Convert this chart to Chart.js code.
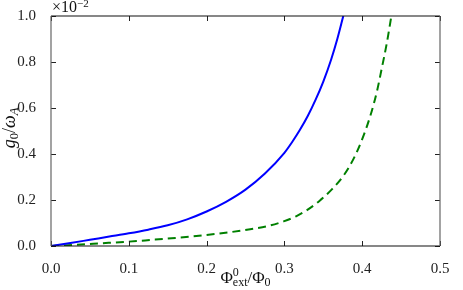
<!DOCTYPE html>
<html>
<head>
<meta charset="utf-8">
<script src="https://cdn.jsdelivr.net/npm/chart.js@4.4.1/dist/chart.umd.min.js"></script>
<style>
  html, body { margin: 0; padding: 0; background: #fff; }
  #wrap { width: 463px; height: 290px; }
</style>
</head>
<body>
<div id="wrap"><canvas id="myChart" width="463" height="290"></canvas></div>
<script>
// Werte (y in Einheiten von 1e-2)
const blueX = [0, 0.025, 0.05, 0.075, 0.1, 0.125, 0.15, 0.175, 0.2, 0.225, 0.25, 0.275, 0.3, 0.31, 0.32, 0.33, 0.34, 0.35, 0.36, 0.368, 0.3757];
const blueY = [0, 0.013, 0.027, 0.041, 0.055, 0.071, 0.09, 0.116, 0.15, 0.192, 0.245, 0.315, 0.405, 0.452, 0.505, 0.565, 0.635, 0.715, 0.81, 0.9, 1.0];

const greenX = [0, 0.03, 0.063, 0.1, 0.127, 0.16, 0.2, 0.23, 0.256, 0.28, 0.299, 0.315, 0.329, 0.345, 0.361, 0.376, 0.389, 0.399, 0.41, 0.419, 0.425, 0.4315, 0.4375];
const greenY = [0, 0.005, 0.0115, 0.019, 0.026, 0.035, 0.048, 0.06, 0.073, 0.088, 0.107, 0.129, 0.156, 0.196, 0.246, 0.306, 0.38, 0.456, 0.561, 0.673, 0.77, 0.88, 1.0];

const xTickValues = [0, 0.1, 0.2, 0.3, 0.4, 0.5];
const yTickValues = [0, 0.2, 0.4, 0.6, 0.8, 1.0];

const FONT = "'Liberation Serif', 'DejaVu Serif', serif";

// Text mit Hoch-/Tiefstellung zeichnen
function drawParts(ctx, parts, cx, baseline) {
  let width = 0;
  parts.forEach((p) => {
    ctx.font = (p.italic ? "italic " : "") + p.size + "px " + FONT;
    p.w = ctx.measureText(p.t).width;
    if (!p.stay) width += p.w;
  });
  let x = cx - width / 2;
  parts.forEach((p) => {
    ctx.font = (p.italic ? "italic " : "") + p.size + "px " + FONT;
    ctx.fillText(p.t, x, baseline + (p.dy || 0));
    if (!p.stay) x += p.w;
  });
}

const framePlugin = {
  id: "frame",
  afterDatasetsDraw(chart) {
    const { ctx, chartArea, scales } = chart;
    const { left, right, top, bottom } = chartArea;
    ctx.save();

    // Ticks nach innen
    ctx.strokeStyle = "#222";
    ctx.lineWidth = 1;
    ctx.beginPath();
    xTickValues.forEach((v) => {
      const px = Math.round(scales.x.getPixelForValue(v)) + 0.5;
      ctx.moveTo(px, bottom);
      ctx.lineTo(px, bottom - 5);
      ctx.moveTo(px, top);
      ctx.lineTo(px, top + 5);
    });
    yTickValues.forEach((v) => {
      const py = Math.round(scales.y.getPixelForValue(v)) + 0.5;
      ctx.moveTo(left, py);
      ctx.lineTo(left + 5, py);
      ctx.moveTo(right, py);
      ctx.lineTo(right - 5, py);
    });
    ctx.stroke();

    // Rahmen
    ctx.lineWidth = 1.2;
    ctx.strokeStyle = "#111";
    ctx.beginPath();
    ctx.moveTo(left, top);
    ctx.lineTo(right, top);
    ctx.moveTo(left, bottom);
    ctx.lineTo(right, bottom);
    ctx.stroke();
    ctx.strokeStyle = "#666";
    ctx.beginPath();
    ctx.moveTo(left, top);
    ctx.lineTo(left, bottom);
    ctx.moveTo(right, top);
    ctx.lineTo(right, bottom);
    ctx.stroke();

    // Achsentitel
    ctx.fillStyle = "#111";
    ctx.textAlign = "left";
    ctx.textBaseline = "alphabetic";
    drawParts(ctx, [
      { t: "Φ", size: 17 },
      { t: "0", size: 12, dy: -7, stay: true },
      { t: "ext", size: 12, dy: 3 },
      { t: "/Φ", size: 17 },
      { t: "0", size: 12, dy: 3 },
    ], (left + right) / 2, 283);

    ctx.save();
    ctx.translate(15, (top + bottom) / 2 - 3);
    ctx.rotate(-Math.PI / 2);
    drawParts(ctx, [
      { t: "g", size: 18, italic: true },
      { t: "0", size: 12.5, dy: 3 },
      { t: "/", size: 18 },
      { t: "ω", size: 18, italic: true },
      { t: "A", size: 12.5, italic: true, dy: 3 },
    ], 0, 0);
    ctx.restore();

    // Multiplikator
    ctx.font = "16px " + FONT;
    ctx.fillText("×10", left + 1, 12);
    const w = ctx.measureText("×10").width;
    ctx.font = "11px " + FONT;
    ctx.fillText("−2", left + 1 + w, 7);

    ctx.restore();
  },
};

const ctx = document.getElementById("myChart");

new Chart(ctx, {
  type: "line",
  data: {
    datasets: [
      {
        label: "solid",
        data: blueX.map((x, i) => ({ x: x, y: blueY[i] })),
        borderColor: "#0000ff",
        borderWidth: 2,
        pointRadius: 0,
        cubicInterpolationMode: "monotone",
        fill: false,
      },
      {
        label: "dashed",
        data: greenX.map((x, i) => ({ x: x, y: greenY[i] })),
        borderColor: "#008000",
        borderWidth: 2,
        borderDash: [8, 5],
        pointRadius: 0,
        cubicInterpolationMode: "monotone",
        fill: false,
      },
    ],
  },
  options: {
    responsive: false,
    animation: false,
    layout: { padding: { left: 0, right: 23, top: 14, bottom: 0 } },
    plugins: {
      legend: { display: false },
      tooltip: { enabled: false },
    },
    scales: {
      x: {
        type: "linear",
        min: 0,
        max: 0.5,
        afterBuildTicks: (s) => { s.ticks = xTickValues.map((v) => ({ value: v })); },
        afterFit: (s) => { s.height = 44; },
        grid: { display: false },
        border: { display: false },
        ticks: {
          padding: 6,
          color: "#222",
          font: { family: FONT, size: 15 },
          callback: (v) => v.toFixed(1),
        },
      },
      y: {
        type: "linear",
        min: 0,
        max: 1.0,
        afterBuildTicks: (s) => { s.ticks = yTickValues.map((v) => ({ value: v })); },
        afterFit: (s) => { s.width = 51; },
        grid: { display: false },
        border: { display: false },
        ticks: {
          padding: 7,
          color: "#222",
          font: { family: FONT, size: 15 },
          callback: (v) => v.toFixed(1),
        },
      },
    },
  },
  plugins: [framePlugin],
});
</script>
</body>
</html>
